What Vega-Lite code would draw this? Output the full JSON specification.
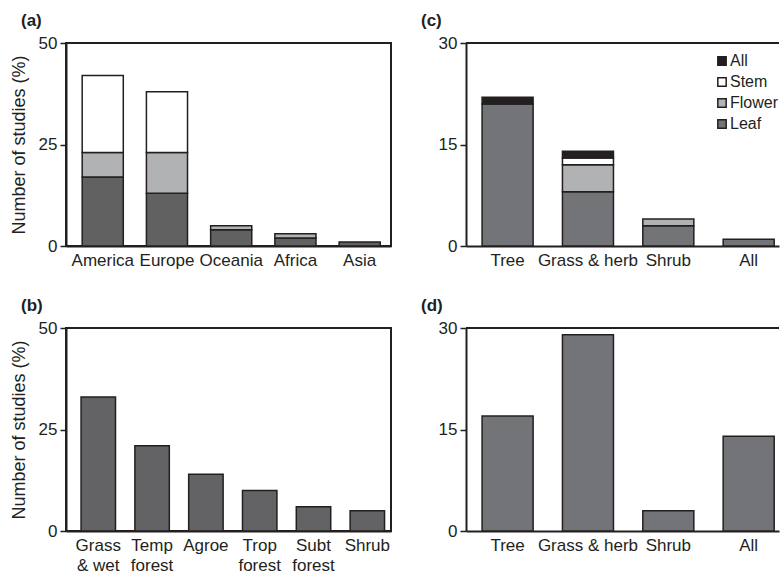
{
  "$schema": "https://vega.github.io/schema/vega-lite/v6.json",
  "padding": {"left": 9, "top": 11, "right": 0, "bottom": 0},
  "autosize": {"type": "pad"},
  "background": "white",
  "config": {
    "font": "Liberation Sans",
    "view": {"stroke": "#231f20", "strokeWidth": 2},
    "axis": {"grid": false, "domainColor": "#231f20", "domainWidth": 2, "tickColor": "#231f20", "tickWidth": 1.5, "tickSize": 6, "labelColor": "#231f20", "labelFontSize": 17, "titleColor": "#231f20", "titleFontSize": 18, "titleFontWeight": "normal", "labelPadding": 3, "titlePadding": 10},
    "axisX": {"ticks": false, "labelAngle": 0, "labelPadding": 6, "labelLineHeight": 20},
    "title": {"anchor": "start", "frame": "group", "fontSize": 17, "fontWeight": "bold", "color": "#231f20", "dx": -45},
    "bar": {"stroke": "#231f20", "strokeWidth": 1.5}
  },
  "columns": 2,
  "spacing": {"row": 82, "column": 75},
  "bounds": "flush",
  "resolve": {"scale": {"color": "independent", "x": "independent", "y": "independent"}, "legend": {"color": "independent"}},
  "datasets": {
    "regions": [
      {"region": "America", "part": "Leaf", "ord": 1, "pct": 17},
      {"region": "America", "part": "Flower", "ord": 2, "pct": 6},
      {"region": "America", "part": "Stem", "ord": 3, "pct": 19},
      {"region": "Europe", "part": "Leaf", "ord": 1, "pct": 13},
      {"region": "Europe", "part": "Flower", "ord": 2, "pct": 10},
      {"region": "Europe", "part": "Stem", "ord": 3, "pct": 15},
      {"region": "Oceania", "part": "Leaf", "ord": 1, "pct": 4},
      {"region": "Oceania", "part": "Flower", "ord": 2, "pct": 1},
      {"region": "Africa", "part": "Leaf", "ord": 1, "pct": 2},
      {"region": "Africa", "part": "Flower", "ord": 2, "pct": 1},
      {"region": "Asia", "part": "Leaf", "ord": 1, "pct": 1}
    ],
    "growth": [
      {"form": "Tree", "part": "Leaf", "ord": 1, "pct": 21},
      {"form": "Tree", "part": "All", "ord": 4, "pct": 1},
      {"form": "Grass & herb", "part": "Leaf", "ord": 1, "pct": 8},
      {"form": "Grass & herb", "part": "Flower", "ord": 2, "pct": 4},
      {"form": "Grass & herb", "part": "Stem", "ord": 3, "pct": 1},
      {"form": "Grass & herb", "part": "All", "ord": 4, "pct": 1},
      {"form": "Shrub", "part": "Leaf", "ord": 1, "pct": 3},
      {"form": "Shrub", "part": "Flower", "ord": 2, "pct": 1},
      {"form": "All", "part": "Leaf", "ord": 1, "pct": 1}
    ],
    "biomes": [
      {"biome": "Grass|& wet", "pct": 33},
      {"biome": "Temp|forest", "pct": 21},
      {"biome": "Agroe", "pct": 14},
      {"biome": "Trop|forest", "pct": 10},
      {"biome": "Subt|forest", "pct": 6},
      {"biome": "Shrub", "pct": 5}
    ],
    "forms": [
      {"form": "Tree", "pct": 17},
      {"form": "Grass & herb", "pct": 29},
      {"form": "Shrub", "pct": 3},
      {"form": "All", "pct": 14}
    ]
  },
  "concat": [
    {
      "title": "(a)",
      "width": 325,
      "height": 203,
      "data": {"name": "regions"},
      "mark": "bar",
      "encoding": {
        "x": {"field": "region", "type": "nominal", "sort": ["America", "Europe", "Oceania", "Africa", "Asia"], "scale": {"paddingInner": 0.36, "paddingOuter": 0.21, "align": 0.6}, "axis": {"title": null}},
        "y": {"field": "pct", "type": "quantitative", "stack": "zero", "scale": {"domain": [0, 50], "nice": false}, "axis": {"values": [0, 25, 50], "title": "Number of studies (%)"}},
        "color": {"field": "part", "type": "nominal", "scale": {"domain": ["All", "Stem", "Flower", "Leaf"], "range": ["#231f20", "#ffffff", "#b1b2b4", "#616162"]}, "legend": null},
        "order": {"field": "ord", "type": "quantitative"}
      }
    },
    {
      "title": "(c)",
      "width": 313,
      "height": 203,
      "view": {"stroke": null},
      "data": {"name": "growth"},
      "layer": [
        {
          "mark": "bar",
          "encoding": {
            "x": {"field": "form", "type": "nominal", "sort": ["Tree", "Grass & herb", "Shrub", "All"], "scale": {"paddingInner": 0.365, "paddingOuter": 0.13, "align": 0.77}, "axis": {"title": null}},
            "y": {"field": "pct", "type": "quantitative", "stack": "zero", "scale": {"domain": [0, 30], "nice": false}, "axis": {"values": [0, 15, 30], "title": null}},
            "color": {"field": "part", "type": "nominal", "scale": {"domain": ["All", "Stem", "Flower", "Leaf"], "range": ["#231f20", "#ffffff", "#b1b2b4", "#737477"]}, "legend": {"title": null, "orient": "none", "legendX": 248, "legendY": 10, "symbolType": "square", "symbolSize": 70, "symbolStrokeColor": "#231f20", "symbolStrokeWidth": 1, "labelFontSize": 16, "labelColor": "#231f20", "rowPadding": 5, "labelOffset": 0, "padding": 0}},
            "order": {"field": "ord", "type": "quantitative"}
          }
        },
        {
          "mark": {"type": "rule", "stroke": "#231f20", "strokeWidth": 2},
          "encoding": {"y": {"datum": 30}}
        }
      ]
    },
    {
      "title": "(b)",
      "width": 325,
      "height": 203,
      "data": {"name": "biomes"},
      "mark": {"type": "bar", "fill": "#636365"},
      "encoding": {
        "x": {"field": "biome", "type": "nominal", "sort": null, "scale": {"paddingInner": 0.36, "paddingOuter": 0.2, "align": 0.7}, "axis": {"title": null, "labelExpr": "split(datum.label, '|')", "labelBaseline": "top"}},
        "y": {"field": "pct", "type": "quantitative", "scale": {"domain": [0, 50], "nice": false}, "axis": {"values": [0, 25, 50], "title": "Number of studies (%)"}}
      }
    },
    {
      "title": "(d)",
      "width": 313,
      "height": 203,
      "view": {"stroke": null},
      "data": {"name": "forms"},
      "layer": [
        {
          "mark": {"type": "bar", "fill": "#737477"},
          "encoding": {
            "x": {"field": "form", "type": "nominal", "sort": null, "scale": {"paddingInner": 0.365, "paddingOuter": 0.13, "align": 0.77}, "axis": {"title": null}},
            "y": {"field": "pct", "type": "quantitative", "scale": {"domain": [0, 30], "nice": false}, "axis": {"values": [0, 15, 30], "title": null}}
          }
        },
        {
          "mark": {"type": "rule", "stroke": "#231f20", "strokeWidth": 2},
          "encoding": {"y": {"datum": 30}}
        }
      ]
    }
  ]
}
